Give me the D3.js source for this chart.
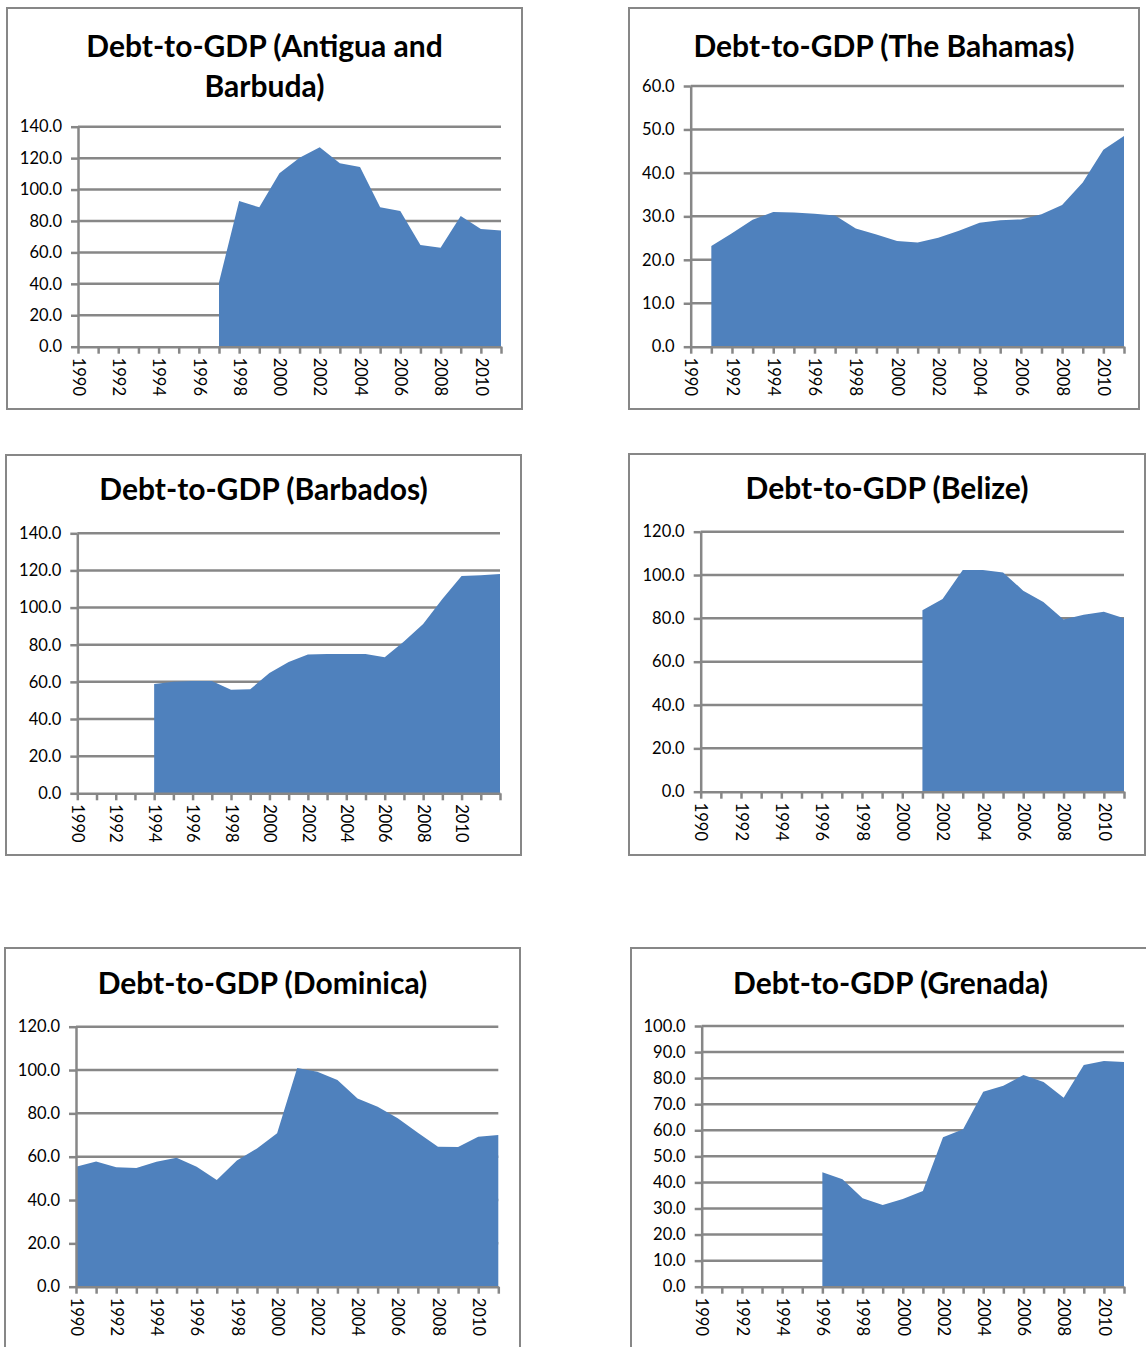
<!DOCTYPE html>
<html>
<head>
<meta charset="utf-8">
<script src="https://cdn.jsdelivr.net/npm/d3@7"></script>
<style>
  html, body { margin: 0; padding: 0; background: #fff; }
  svg { display: block; }
</style>
</head>
<body>
<svg id="chart" width="1146" height="1347"></svg>
<script>
// Category axes (one value per year)
const years = ["1990","1991","1992","1993","1994","1995","1996","1997","1998","1999","2000",
               "2001","2002","2003","2004","2005","2006","2007","2008","2009","2010","2011"];
const yearsBarbados = ["1990","1991","1992","1993","1994","1995","1996","1997","1998","1999","2000",
               "2001","2002","2003","2004","2005","2006","2007","2008","2009","2010","2011","2012"];
// Years that carry a printed label on the horizontal axis
const labelledYears = ["1990","1992","1994","1996","1998","2000","2002","2004","2006","2008","2010"];

// Debt-to-GDP ratios (percent); null = no data for that year
const antiguaDebt  = [null,null,null,null,null,null,null, 41.0, 92.7, 88.7, 110.3, 120.3, 126.9, 116.7, 114.3, 88.7, 86.3, 64.7, 63.0, 83.2, 74.9, 74.0];
const bahamasDebt  = [null, 23.2, 26.1, 29.2, 31.0, 30.9, 30.6, 30.2, 27.2, 25.8, 24.3, 24.0, 25.1, 26.7, 28.5, 29.1, 29.3, 30.5, 32.6, 37.8, 45.3, 48.5];
const barbadosDebt = [null,null,null,null, 58.9, 60.1, 60.5, 60.5, 55.8, 56.0, 64.8, 70.7, 74.7, 75.0, 75.0, 75.0, 73.2, 81.7, 91.2, 104.6, 117.0, 117.4, 118.1];
const belizeDebt   = [null,null,null,null,null,null,null,null,null,null,null, 83.8, 88.9, 102.3, 102.3, 101.2, 92.8, 87.5, 79.5, 81.7, 83.1, 80.0];
const dominicaDebt = [55.4, 57.8, 55.1, 54.8, 57.7, 59.5, 55.4, 49.2, 58.3, 63.8, 70.8, 100.9, 99.2, 95.4, 86.9, 83.1, 77.7, 71.1, 64.6, 64.5, 69.2, 70.0];
const grenadaDebt  = [null,null,null,null,null,null, 43.9, 41.2, 33.9, 31.3, 33.6, 36.7, 57.3, 60.4, 74.8, 77.1, 81.2, 78.5, 72.5, 85.0, 86.6, 86.2];

// Value-axis ticks for each chart
const ticks140 = [0, 20, 40, 60, 80, 100, 120, 140];
const ticks120 = [0, 20, 40, 60, 80, 100, 120];
const ticks60  = [0, 10, 20, 30, 40, 50, 60];
const ticks100 = [0, 10, 20, 30, 40, 50, 60, 70, 80, 90, 100];

// Chart titles (one entry per line)
const titles = [
  ["Debt-to-GDP (Antigua and", "Barbuda)"],
  ["Debt-to-GDP (The Bahamas)"],
  ["Debt-to-GDP (Barbados)"],
  ["Debt-to-GDP (Belize)"],
  ["Debt-to-GDP (Dominica)"],
  ["Debt-to-GDP (Grenada)"]
];

const panels = [
  { title: titles[0], cats: years,         values: antiguaDebt,  ticks: ticks140 },
  { title: titles[1], cats: years,         values: bahamasDebt,  ticks: ticks60  },
  { title: titles[2], cats: yearsBarbados, values: barbadosDebt, ticks: ticks140 },
  { title: titles[3], cats: years,         values: belizeDebt,   ticks: ticks120 },
  { title: titles[4], cats: years,         values: dominicaDebt, ticks: ticks120 },
  { title: titles[5], cats: years,         values: grenadaDebt,  ticks: ticks100 }
];

// Page layout: outer frame and plot rectangle of each chart
const layout = [
  { frame: [7, 8, 522, 409],     plot: [78, 126.7, 501, 346.7],     titleY: 57,  lineGap: 40 },
  { frame: [629, 8, 1139, 409],  plot: [690.7, 86, 1124, 346.7],    titleY: 57,  lineGap: 40 },
  { frame: [6, 455, 521, 855],   plot: [77.3, 533.3, 500, 793.3],   titleY: 500, lineGap: 40 },
  { frame: [629, 454, 1145, 855],plot: [700.7, 531.7, 1124, 791.7], titleY: 499, lineGap: 40 },
  { frame: [5, 948, 520, 1360],  plot: [76, 1026.7, 498.3, 1286.7], titleY: 994, lineGap: 40 },
  { frame: [631, 948, 1150, 1360],plot: [701.7, 1026, 1124, 1286.7],titleY: 994, lineGap: 40 }
];

const GREY = "#878787";
const FILL = "#4F81BD";
const FONT = "Lato, 'Open Sans', 'Liberation Sans', sans-serif";

const svg = d3.select("#chart");

panels.forEach((p, i) => {
  const L = layout[i];
  const [fx0, fy0, fx1, fy1] = L.frame;
  const [px0, py0, px1, py1] = L.plot;
  const g = svg.append("g");

  g.append("rect")
    .attr("x", fx0).attr("y", fy0)
    .attr("width", fx1 - fx0).attr("height", fy1 - fy0)
    .attr("fill", "#fff").attr("stroke", GREY).attr("stroke-width", 2);

  const x = d3.scalePoint().domain(p.cats).range([px0, px1]);
  const y = d3.scaleLinear().domain([0, d3.max(p.ticks)]).range([py1, py0]);

  // horizontal gridlines
  g.append("g").selectAll("line").data(p.ticks.filter(t => t > 0)).join("line")
    .attr("x1", px0).attr("x2", px1)
    .attr("y1", d => y(d)).attr("y2", d => y(d))
    .attr("stroke", GREY).attr("stroke-width", 2.5);

  // filled area
  const rows = p.cats.map((c, k) => ({ c, v: p.values[k] }));
  const area = d3.area()
    .defined(d => d.v !== null)
    .x(d => x(d.c))
    .y0(y(0))
    .y1(d => y(d.v));
  g.append("path").datum(rows).attr("d", area).attr("fill", FILL);

  // value axis
  const yAxis = d3.axisLeft(y).tickValues(p.ticks).tickFormat(d3.format(".1f"))
    .tickSize(7).tickSizeOuter(0).tickPadding(9);
  const ya = g.append("g").attr("transform", `translate(${px0},0)`).call(yAxis);
  ya.select(".domain").attr("stroke", GREY).attr("stroke-width", 2.5);
  ya.selectAll(".tick line").attr("stroke", GREY).attr("stroke-width", 2.5);
  ya.selectAll(".tick text").attr("fill", "#000")
    .style("font-family", FONT).style("font-size", "16.5px");

  // category axis with vertical year labels
  const labelSet = new Set(labelledYears);
  const xAxis = d3.axisBottom(x).tickValues(p.cats)
    .tickFormat(d => labelSet.has(d) ? d : "")
    .tickSize(7).tickSizeOuter(0);
  const xa = g.append("g").attr("transform", `translate(0,${py1})`).call(xAxis);
  xa.select(".domain").attr("stroke", GREY).attr("stroke-width", 2.5);
  xa.selectAll(".tick line").attr("stroke", GREY).attr("stroke-width", 2.5);
  xa.selectAll(".tick text")
    .attr("fill", "#000")
    .attr("transform", "rotate(90)")
    .attr("x", 11).attr("y", 0).attr("dy", "0.35em")
    .attr("text-anchor", "start")
    .style("font-family", FONT).style("font-size", "16.5px");

  // title
  const cx = (fx0 + fx1) / 2;
  p.title.forEach((line, k) => {
    g.append("text")
      .attr("x", cx).attr("y", L.titleY + k * L.lineGap)
      .attr("text-anchor", "middle")
      .attr("fill", "#000")
      .style("font-family", FONT).style("font-weight", "bold").style("font-size", "30px")
      .text(line);
  });
});
</script>
</body>
</html>
